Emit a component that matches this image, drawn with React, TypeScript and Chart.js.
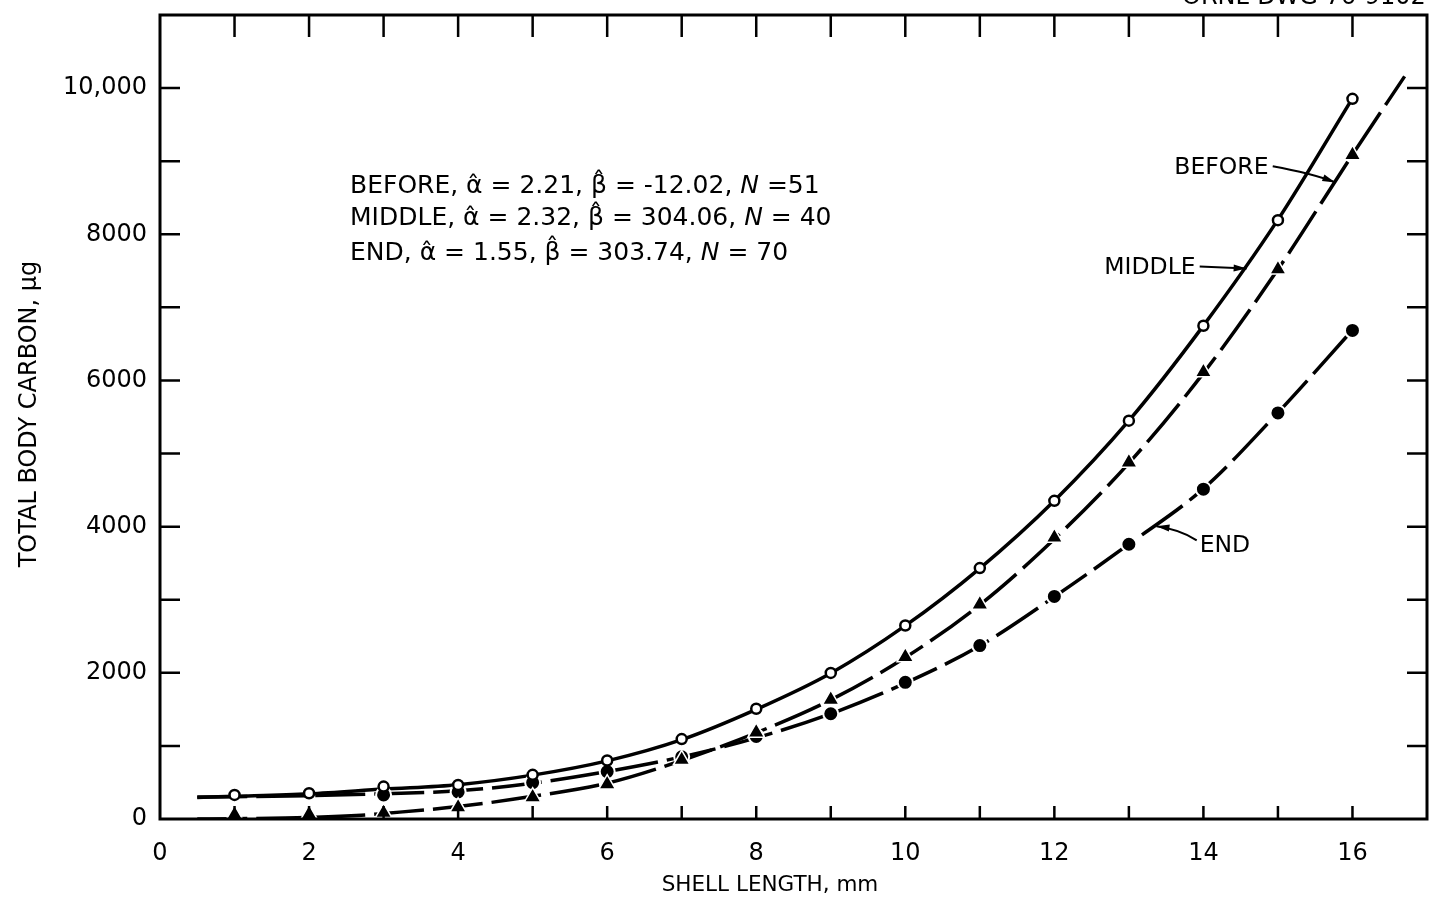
import React, { useEffect, useRef } from 'react';
import { Chart, registerables } from 'chart.js';

Chart.register(...registerables);

const FONT = '"DejaVu Sans", sans-serif';

// Observed means (markers), shell length in mm
const markerLength = [1, 2, 3, 4, 5, 6, 7, 8, 9, 10, 11, 12, 13, 14, 15, 16];
const beforeMarkers = [60, 65, 85, 160, 298, 476, 809, 1184, 1632, 2218, 2936, 3850, 4879, 6114, 7521, 9085];
const middleMarkers = [329, 352, 443, 466, 604, 800, 1093, 1509, 1999, 2647, 3433, 4353, 5450, 6749, 8193, 9853];
const endLength = [3, 4, 5, 6, 7, 8, 9, 10, 11, 12, 13, 14, 15, 16];
const endMarkers = [330, 370, 498, 649, 850, 1129, 1440, 1870, 2373, 3045, 3759, 4513, 5556, 6685];

// Fitted curves
const beforeCurveLength = [0.5, 1, 2, 2.7, 3, 4, 5, 6, 7, 8, 9, 10, 11, 12, 13, 14, 15, 16, 16.7];
const beforeCurve = [0, 5, 20, 50, 75, 170, 310, 490, 800, 1180, 1630, 2210, 2930, 3830, 4870, 6100, 7520, 9090, 10160];
const middleCurveLength = [0.5, 1, 2, 3, 4, 5, 6, 7, 8, 9, 10, 11, 12, 13, 14, 15, 16];
const middleCurve = [295, 310, 345, 410, 470, 600, 795, 1085, 1500, 1995, 2645, 3430, 4355, 5450, 6750, 8200, 9860];
const endCurveLength = [0.5, 1, 2, 3, 4, 5, 6, 7, 8, 9, 10, 11, 12, 13, 14, 15, 16];
const endCurve = [300, 305, 320, 345, 385, 490, 650, 850, 1110, 1440, 1860, 2370, 3040, 3760, 4520, 5560, 6690];

const xLabels = [0, 2, 4, 6, 8, 10, 12, 14, 16];
const yLabels: Record<number, string> = { 0: '0', 2000: '2000', 4000: '4000', 6000: '6000', 8000: '8000', 10000: '10,000' };

const fitLines: Array<Array<[string, boolean]>> = [
  [['BEFORE, α\u0302 = 2.21, β\u0302 = -12.02, ', false], ['N', true], [' =51', false]],
  [['MIDDLE, α\u0302 = 2.32, β\u0302 = 304.06, ', false], ['N', true], [' = 40', false]],
  [['END, α\u0302 = 1.55, β\u0302 = 303.74, ', false], ['N', true], [' = 70', false]],
];

const zip = (xs: number[], ys: number[]) => xs.map((x, i) => ({ x, y: ys[i] }));

const decorPlugin = {
  id: 'decor',
  afterDraw(chart: any) {
    const { ctx, chartArea: a, scales } = chart;
    const xs = scales.x;
    const ys = scales.y;
    const X = (v: number) => xs.getPixelForValue(v);
    const Y = (v: number) => ys.getPixelForValue(v);
    ctx.save();
    ctx.strokeStyle = '#000';
    ctx.fillStyle = '#000';
    ctx.lineWidth = 3;
    ctx.strokeRect(a.left, a.top, a.right - a.left, a.bottom - a.top);
    ctx.lineWidth = 2.5;
    ctx.beginPath();
    for (let v = 1; v <= 16; v++) {
      const px = X(v);
      ctx.moveTo(px, a.top);
      ctx.lineTo(px, a.top + 22);
      ctx.moveTo(px, a.bottom);
      ctx.lineTo(px, a.bottom - 13);
    }
    for (let v = 1000; v <= 10000; v += 1000) {
      const py = Y(v);
      ctx.moveTo(a.left, py);
      ctx.lineTo(a.left + 20, py);
      ctx.moveTo(a.right, py);
      ctx.lineTo(a.right - 20, py);
    }
    ctx.stroke();

    // fit parameter block
    ctx.textBaseline = 'middle';
    ctx.textAlign = 'left';
    const lineYs = [8650, 8210, 7740];
    fitLines.forEach((segs, i) => {
      let x = X(2.55);
      const y = Y(lineYs[i]);
      segs.forEach(([t, it]) => {
        ctx.font = `${it ? 'italic ' : ''}25px ${FONT}`;
        ctx.fillText(t, x, y);
        x += ctx.measureText(t).width;
      });
    });

    // curve labels with arrows
    ctx.font = `23.5px ${FONT}`;
    ctx.fillText('BEFORE', X(13.61), Y(8903));
    ctx.fillText('MIDDLE', X(12.67), Y(7545));
    ctx.fillText('END', X(13.95), Y(3731));

    const arrow = (p0: number[], c: number[], p1: number[]) => {
      const x0 = X(p0[0]), y0 = Y(p0[1]);
      const cx = X(c[0]), cy = Y(c[1]);
      const x1 = X(p1[0]), y1 = Y(p1[1]);
      ctx.lineWidth = 2;
      ctx.beginPath();
      ctx.moveTo(x0, y0);
      ctx.quadraticCurveTo(cx, cy, x1, y1);
      ctx.stroke();
      const ang = Math.atan2(y1 - cy, x1 - cx);
      const L = 13, W = 3.5;
      ctx.beginPath();
      ctx.moveTo(x1, y1);
      ctx.lineTo(x1 - L * Math.cos(ang) + W * Math.sin(ang), y1 - L * Math.sin(ang) - W * Math.cos(ang));
      ctx.lineTo(x1 - L * Math.cos(ang) - W * Math.sin(ang), y1 - L * Math.sin(ang) + W * Math.cos(ang));
      ctx.closePath();
      ctx.fill();
    };
    arrow([14.93, 8930], [15.45, 8834], [15.77, 8710]);
    arrow([13.95, 7558], [14.25, 7545], [14.58, 7531]);
    arrow([13.91, 3813], [13.68, 3964], [13.37, 4005]);

    // axis titles
    ctx.font = `21.5px ${FONT}`;
    ctx.textAlign = 'center';
    ctx.fillText('SHELL LENGTH, mm', 770, 885);
    ctx.save();
    ctx.translate(30, 414);
    ctx.rotate(-Math.PI / 2);
    ctx.font = `24px ${FONT}`;
    ctx.fillText('TOTAL BODY CARBON, μg', 0, 0);
    ctx.restore();

    // clipped drawing number at top right
    ctx.font = `24px ${FONT}`;
    ctx.textAlign = 'left';
    ctx.textBaseline = 'alphabetic';
    ctx.fillText('ORNL-DWG 76-9102', 1182, 4);
    ctx.restore();
  },
};

export default function App() {
  const ref = useRef<HTMLCanvasElement | null>(null);
  useEffect(() => {
    if (!ref.current) return;
    const chart = new Chart(ref.current, {
      type: 'line',
      data: {
        datasets: [
          {
            label: 'MIDDLE markers', data: zip(markerLength, middleMarkers), showLine: false,
            pointStyle: 'circle', pointRadius: 5, pointBackgroundColor: '#fff', pointBorderColor: '#000', pointBorderWidth: 2.5,
          },
          {
            label: 'BEFORE markers', data: zip(markerLength, beforeMarkers), showLine: false,
            pointStyle: 'triangle', pointRadius: 9.5, pointBackgroundColor: '#000', pointBorderColor: '#fff', pointBorderWidth: 1.5,
          },
          {
            label: 'END markers', data: zip(endLength, endMarkers), showLine: false,
            pointStyle: 'circle', pointRadius: 7.5, pointBackgroundColor: '#000', pointBorderColor: '#fff', pointBorderWidth: 2,
          },
          {
            label: 'MIDDLE', data: zip(middleCurveLength, middleCurve), pointRadius: 0, borderColor: '#000', borderWidth: 3.5,
            cubicInterpolationMode: 'monotone', fill: false,
          },
          {
            label: 'BEFORE', data: zip(beforeCurveLength, beforeCurve), pointRadius: 0, borderColor: '#000', borderWidth: 3.5,
            borderDash: [50, 9], cubicInterpolationMode: 'monotone', fill: false,
          },
          {
            label: 'END', data: zip(endCurveLength, endCurve), pointRadius: 0, borderColor: '#000', borderWidth: 3.5,
            borderDash: [50, 9], cubicInterpolationMode: 'monotone', fill: false,
          },
        ],
      },
      options: {
        animation: false,
        responsive: false,
        devicePixelRatio: 1,
        layout: { padding: { top: 15, right: 11, left: 0, bottom: 0 } },
        plugins: { legend: { display: false }, tooltip: { enabled: false } },
        scales: {
          x: {
            type: 'linear', min: 0, max: 17,
            grid: { display: false, drawTicks: false }, border: { display: false },
            ticks: {
              stepSize: 1, autoSkip: false, maxRotation: 0, padding: 20, color: '#000',
              font: { size: 24, family: FONT },
              callback: (v: any) => (xLabels.includes(Number(v)) ? String(v) : ''),
            },
            afterFit: (s: any) => { s.height = 96; s.paddingLeft = 0; s.paddingRight = 0; },
          },
          y: {
            type: 'linear', min: 0, max: 11000,
            grid: { display: false, drawTicks: false }, border: { display: false },
            ticks: {
              stepSize: 1000, autoSkip: false, padding: 13, color: '#000',
              font: { size: 24, family: FONT },
              callback: (v: any) => (yLabels[Number(v)] !== undefined ? yLabels[Number(v)] : ''),
            },
            afterFit: (s: any) => { s.width = 160; s.paddingTop = 0; s.paddingBottom = 0; },
          },
        },
      } as any,
      plugins: [decorPlugin],
    });
    return () => chart.destroy();
  }, []);
  return (
    <div style={{ position: 'fixed', left: 0, top: 0, width: 1438, height: 915, background: '#fff' }}>
      <canvas ref={ref} width={1438} height={915} style={{ width: 1438, height: 915, display: 'block' }} />
    </div>
  );
}
